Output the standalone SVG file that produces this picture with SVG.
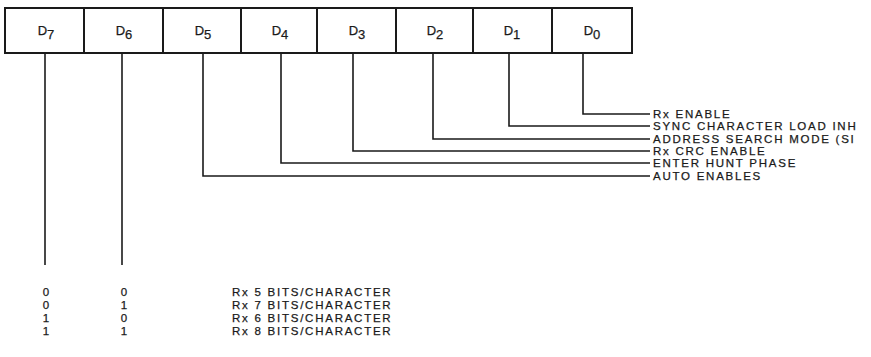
<svg xmlns="http://www.w3.org/2000/svg" width="871" height="357" viewBox="0 0 871 357">
<style>
text{font-family:"Liberation Sans",Arial,sans-serif;font-size:11.5px;fill:#1a1a1a;stroke:#1a1a1a;stroke-width:0.25;letter-spacing:1.75px}
.c{text-anchor:middle;letter-spacing:0}
.d{font-size:13px}
.box{fill:#fff;stroke:#1a1a1a;stroke-width:2}
.ln{fill:none;stroke:#1a1a1a;stroke-width:1.6}
</style>
<rect x="0" y="0" width="871" height="357" fill="#fff"/>
<g id="register">
<g id="d7"><rect class="box" x="5" y="8" width="79" height="45"/><text class="c d" x="46" y="35">D<tspan dy="4">7</tspan></text></g>
<g id="d6"><rect class="box" x="84" y="8" width="79" height="45"/><text class="c d" x="124" y="35">D<tspan dy="4">6</tspan></text></g>
<g id="d5"><rect class="box" x="163" y="8" width="78" height="45"/><text class="c d" x="203" y="35">D<tspan dy="4">5</tspan></text></g>
<g id="d4"><rect class="box" x="241" y="8" width="76" height="45"/><text class="c d" x="280" y="35">D<tspan dy="4">4</tspan></text></g>
<g id="d3"><rect class="box" x="317" y="8" width="79" height="45"/><text class="c d" x="357" y="35">D<tspan dy="4">3</tspan></text></g>
<g id="d2"><rect class="box" x="396" y="8" width="77" height="45"/><text class="c d" x="435" y="35">D<tspan dy="4">2</tspan></text></g>
<g id="d1"><rect class="box" x="473" y="8" width="79" height="45"/><text class="c d" x="512" y="35">D<tspan dy="4">1</tspan></text></g>
<g id="d0"><rect class="box" x="552" y="8" width="80" height="45"/><text class="c d" x="592" y="35">D<tspan dy="4">0</tspan></text></g>
</g>
<g id="connectors">
<polyline class="ln" points="583,54 583,114 650,114"/>
<polyline class="ln" points="509,54 509,126 650,126"/>
<polyline class="ln" points="433,54 433,139 650,139"/>
<polyline class="ln" points="353,54 353,151 650,151"/>
<polyline class="ln" points="281,54 281,163 650,163"/>
<polyline class="ln" points="203,54 203,176 650,176"/>
<line class="ln" x1="45" y1="54" x2="45" y2="265"/>
<line class="ln" x1="122" y1="54" x2="122" y2="265"/>
</g>
<g id="labels">
<text x="653" y="118">Rx ENABLE</text>
<text x="653" y="130">SYNC CHARACTER LOAD INH</text>
<text x="653" y="143">ADDRESS SEARCH MODE (SI</text>
<text x="653" y="155">Rx CRC ENABLE</text>
<text x="653" y="167">ENTER HUNT PHASE</text>
<text x="653" y="180">AUTO ENABLES</text>
</g>
<g id="table">
<text class="c" x="46" y="296">0</text><text class="c" x="124" y="296">0</text><text x="232" y="296">Rx 5 BITS/CHARACTER</text>
<text class="c" x="46" y="309">0</text><text class="c" x="124" y="309">1</text><text x="232" y="309">Rx 7 BITS/CHARACTER</text>
<text class="c" x="46" y="322">1</text><text class="c" x="124" y="322">0</text><text x="232" y="322">Rx 6 BITS/CHARACTER</text>
<text class="c" x="46" y="335">1</text><text class="c" x="124" y="335">1</text><text x="232" y="335">Rx 8 BITS/CHARACTER</text>
</g>
</svg>
